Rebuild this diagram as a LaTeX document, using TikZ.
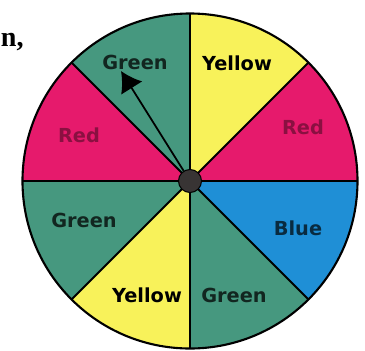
\documentclass[tikz,border=0pt]{standalone}
\usepackage{fontspec}
\setsansfont{DejaVu Sans}
\newfontfamily\capfont{Liberation Serif}
\usepackage{tikz}
\usetikzlibrary{arrows.meta}

\definecolor{spinred}{HTML}{E61A6C}
\definecolor{spinyellow}{HTML}{F8F25A}
\definecolor{spingreen}{HTML}{46987F}
\definecolor{spinblue}{HTML}{1F8FD6}
\definecolor{hubgray}{HTML}{383434}

\begin{document}
\begin{tikzpicture}[>=Latex,
    lbl/.style={font=\sffamily\bfseries\fontsize{11}{13}\selectfont,inner sep=0pt},
    hub/.style={circle,fill=hubgray,draw=black,line width=0.6pt,minimum size=0.46cm,inner sep=0pt}]
  \useasboundingbox (0,0) rectangle (7.3,7.0);
  % the spinner
  \begin{scope}[shift={(3.8,3.38)}]
    \foreach \a/\c in {0/spinred,45/spinyellow,90/spingreen,135/spinred,
                       180/spingreen,225/spinyellow,270/spingreen,315/spinblue}
      \fill[\c] (0,0) -- (\a:3.35) arc[start angle=\a,delta angle=45,radius=3.35] -- cycle;
    \foreach \a in {0,45,...,315} \draw[line width=1.1pt] (0,0) -- (\a:3.35);
    \draw[line width=1.2pt] (0,0) circle (3.35);
    \node[lbl,text=black!75!spingreen] (gtop) at (-1.10,2.38) {Green};
    \node[lbl,text=black] (ytop) at (0.94,2.36) {Yellow};
    \node[lbl,text=spinred!60!black] (rright) at (2.26,1.08) {Red};
    \node[lbl,text=spinred!60!black] (rleft) at (-2.22,0.92) {Red};
    \node[lbl,text=black!75!spingreen] (gleft) at (-2.12,-0.78) {Green};
    \node[lbl,text=black!70!spinblue] (blue) at (2.16,-0.94) {Blue};
    \node[lbl,text=black] (ybot) at (-0.86,-2.28) {Yellow};
    \node[lbl,text=black!75!spingreen] (gbot) at (0.88,-2.28) {Green};
    % pointer
    \node[hub] (hub) at (0,0) {};
    \coordinate (tip) at (-1.38,2.20);
    \draw[-{Latex[length=4mm,width=5mm]},line width=1pt] (hub) -- (tip);
  \end{scope}
  \node[font=\capfont\bfseries\fontsize{16}{18}\selectfont,anchor=east,inner sep=0pt] (word) at (0.48,6.15) {n,};
\end{tikzpicture}
\end{document}
